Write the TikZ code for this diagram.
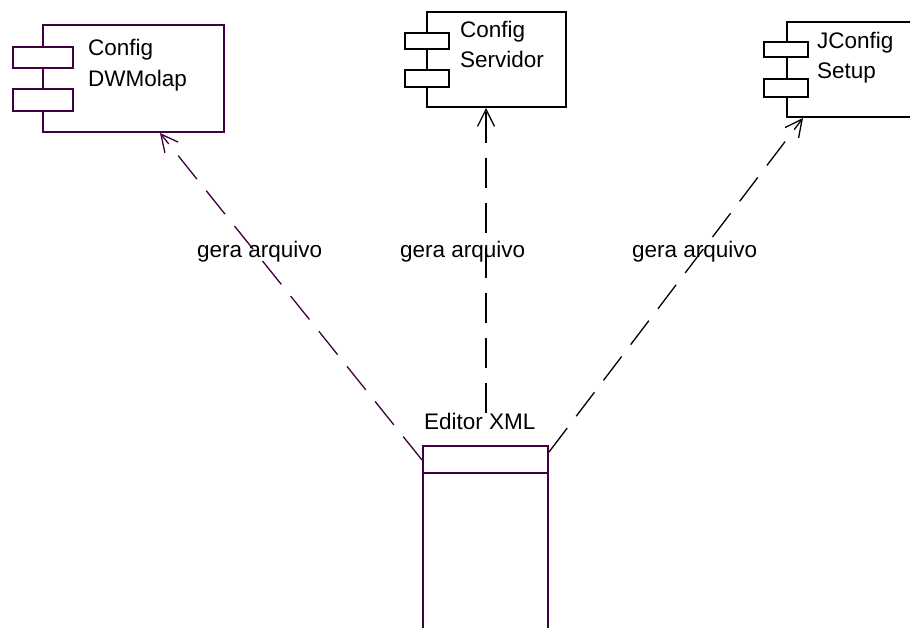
\documentclass[tikz,border=0pt]{standalone}
\usepackage{fontspec}
\setmainfont{Liberation Sans}
\usetikzlibrary{arrows.meta}
\definecolor{plum}{HTML}{400040}
\begin{document}
\begin{tikzpicture}[x=1pt,y=-1pt,
  comp/.style={draw,line width=2pt,fill=white,inner sep=0pt},
  port/.style={draw,line width=2pt,fill=white,inner sep=0pt},
  txt/.style={anchor=base west,inner sep=0pt,font=\fontsize{22.5}{30}\selectfont},
  lbl/.style={anchor=base west,inner sep=0pt,font=\fontsize{22.5}{30}\selectfont},
  dep/.style={dash pattern=on 30pt off 15pt,-{Straight Barb[length=17pt,width=17pt,line width=1.3pt]}}]
\useasboundingbox[fill=white] (0,0) rectangle (910,627);

% Config DWMolap
\node[comp,draw=plum,minimum width=181pt,minimum height=107pt] (dw) at (133.5,78.5) {};
\node[port,draw=plum,minimum width=60pt,minimum height=21pt] (dwp1) at (43,57.5) {};
\node[port,draw=plum,minimum width=60pt,minimum height=22pt] (dwp2) at (43,100) {};
\node[txt] (dwt1) at (88,55) {Config};
\node[txt] (dwt2) at (88,86) {DWMolap};

% Config Servidor
\node[comp,minimum width=139pt,minimum height=95pt] (sv) at (496.5,59.5) {};
\node[port,minimum width=44pt,minimum height=16pt] (svp1) at (427,41) {};
\node[port,minimum width=44pt,minimum height=17pt] (svp2) at (427,78.5) {};
\node[txt] (svt1) at (460,37) {Config};
\node[txt] (svt2) at (460,67) {Servidor};

% JConfig Setup
\node[comp,minimum width=140pt,minimum height=95pt] (js) at (857,69.5) {};
\node[port,minimum width=44pt,minimum height=15pt] (jsp1) at (786,49.5) {};
\node[port,minimum width=44pt,minimum height=18pt] (jsp2) at (786,88) {};
\node[txt] (jst1) at (817,48) {JConfig};
\node[txt] (jst2) at (817,78) {Setup};

% Editor XML
\node[comp,draw=plum,minimum width=125pt,minimum height=200pt] (ed) at (485.5,546) {};
\draw[plum,line width=2pt] (ed.west |- 0,473) -- (ed.east |- 0,473);
\node[lbl] (edl) at (424,429) {Editor XML};

% dependencies
\draw[dep,plum,line width=1.3pt] (ed.west |- 0,460) -- (160,0 |- dw.south);
\draw[dep,line width=2pt] (486,0 |- edl.north) -- (486,0 |- sv.south);
\draw[dep,line width=1.3pt] (ed.east |- 0,452) -- (803,0 |- js.south);

% labels
\node[lbl] (l1) at (197,257) {gera arquivo};
\node[lbl] (l2) at (400,257) {gera arquivo};
\node[lbl] (l3) at (632,257) {gera arquivo};
\end{tikzpicture}
\end{document}
